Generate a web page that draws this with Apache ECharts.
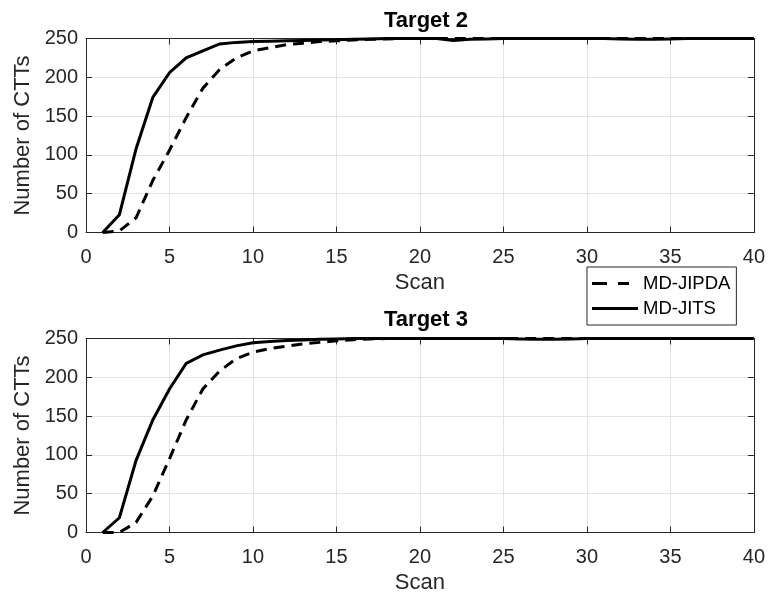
<!DOCTYPE html>
<html>
<head>
<meta charset="utf-8">
<script src="https://cdn.jsdelivr.net/npm/echarts@6/dist/echarts.min.js"></script>
<style>
html,body{margin:0;padding:0;background:#fff;}
#chart{width:768px;height:602px;}
</style>
</head>
<body>
<div id="chart"></div>
<script>
const scans = [1,2,3,4,5,6,7,8,9,10,11,12,13,14,15,16,17,18,19,20,21,22,23,24,25,26,27,28,29,30,31,32,33,34,35,36,37,38,39,40];
const t2JIPDA = [0,2,19,67,106,148,186,210,225,234,238,242,244,246,247,248,249,249.5,250,250,250,250,250,250,250,250,250,250,250,250,250,250,250,250,250,250,250,250,250,250];
const t2JITS  = [0,23,108,174,206,225,234,243,245,246,246.5,247,247.5,248,248.5,249,249.5,250,250,250,250,247.5,249,249.5,250,250,250,250,250,250,250,249.5,249,249,249.5,250,250,250,250,250];
const t3JIPDA = [0,0,13,47,95,145,185,208,224,232.5,237,240,243,245,247,248.5,249.5,250,250,250,250,250,250,250,250,250,250,250,250,250,250,250,250,250,250,250,250,250,250,250];
const t3JITS  = [0,19,93,145,185,218,229,235,240.5,244.5,246,247.5,248,249,249.5,250,250,250,250,250,250,250,250,250,250,249.5,249,249,249.5,250,250,250,250,250,250,250,250,250,250,250];
const seriesNames = ['MD-JIPDA','MD-JITS'];
const titles = ['Target 2','Target 3'];
const xTicks = {min:0, max:40, interval:5};
const yTicks = {min:0, max:250, interval:50};
const xName = 'Scan';
const yName = 'Number of CTTs';

const FONT = 'Liberation Sans, Arial, Helvetica, sans-serif';
const AX = '#262626';
const pair = (ys) => scans.map((x,i)=>[x, ys[i]]);

const grids = [
  {left:86, top:38.5, width:670, height:194},
  {left:86, top:338.5, width:670, height:194}
];

const xAxes = [], yAxes = [];
[0,1].forEach(g=>{
  xAxes.push({
    type:'value', gridIndex:g, position:'bottom', min:xTicks.min, max:xTicks.max, interval:xTicks.interval,
    name:xName, nameLocation:'middle', nameGap:39,
    nameTextStyle:{fontFamily:FONT, fontSize:22, color:AX},
    axisLine:{show:true, onZero:false, lineStyle:{color:AX, width:1}},
    axisTick:{show:true, inside:true, length:6, lineStyle:{color:AX}},
    axisLabel:{fontFamily:FONT, fontSize:20, color:AX, margin:15},
    splitLine:{show:true, lineStyle:{color:'#e3e3e3', width:1}}
  });
  xAxes.push({
    type:'value', gridIndex:g, position:'top', min:xTicks.min, max:xTicks.max, interval:xTicks.interval,
    axisLine:{show:true, onZero:false, lineStyle:{color:AX, width:1}},
    axisTick:{show:true, inside:true, length:6, lineStyle:{color:AX}},
    axisLabel:{show:false}, splitLine:{show:false}
  });
  yAxes.push({
    type:'value', gridIndex:g, position:'left', min:yTicks.min, max:yTicks.max, interval:yTicks.interval,
    name:yName, nameLocation:'middle', nameGap:51, nameRotate:90,
    nameTextStyle:{fontFamily:FONT, fontSize:22, color:AX},
    axisLine:{show:true, onZero:false, lineStyle:{color:AX, width:1}},
    axisTick:{show:true, inside:true, length:6, lineStyle:{color:AX}},
    axisLabel:{fontFamily:FONT, fontSize:20, color:AX, margin:8},
    splitLine:{show:true, lineStyle:{color:'#e3e3e3', width:1}}
  });
  yAxes.push({
    type:'value', gridIndex:g, position:'right', min:yTicks.min, max:yTicks.max, interval:yTicks.interval,
    axisLine:{show:true, onZero:false, lineStyle:{color:AX, width:1}},
    axisTick:{show:true, inside:true, length:6, lineStyle:{color:AX}},
    axisLabel:{show:false}, splitLine:{show:false}
  });
});

function mkSeries(name, data, g, dashed){
  return {
    name:name, type:'line', xAxisIndex:g*2, yAxisIndex:g*2, data:pair(data),
    symbol:'none', clip:false, animation:false,
    lineStyle:{color:'#000', width:3, type: dashed ? [11,7] : 'solid', cap:'butt', join:'miter'},
    itemStyle:{color:'#000'}
  };
}

const dashIcon = 'path://M0 0H15V3H0Z M26 0H37V3H26Z M46 0L46 3';
const solidIcon = 'path://M0 0H46V3H0Z';

const option = {
  backgroundColor:'#fff',
  animation:false,
  title:[
    {text:titles[0], left:421, top:5, textAlign:'center', textStyle:{fontFamily:FONT, fontSize:22, fontWeight:'bold', color:'#000'}},
    {text:titles[1], left:421, top:304, textAlign:'center', textStyle:{fontFamily:FONT, fontSize:22, fontWeight:'bold', color:'#000'}}
  ],
  legend:{
    data:[{name:seriesNames[0], icon:dashIcon}, {name:seriesNames[1], icon:solidIcon}],
    orient:'vertical', left:587, top:267,
    backgroundColor:'#fff', borderColor:AX, borderWidth:1, borderRadius:0,
    padding:[7,6,7,5], itemGap:6, itemWidth:46, itemHeight:3,
    itemStyle:{color:'#000', borderWidth:0},
    textStyle:{fontFamily:FONT, fontSize:18.5, color:'#000', lineHeight:19},
    z:10
  },
  grid:grids,
  xAxis:xAxes,
  yAxis:yAxes,
  series:[
    mkSeries(seriesNames[0], t2JIPDA, 0, true),
    mkSeries(seriesNames[1], t2JITS, 0, false),
    mkSeries(seriesNames[0], t3JIPDA, 1, true),
    mkSeries(seriesNames[1], t3JITS, 1, false)
  ]
};
const chart = echarts.init(document.getElementById('chart'), null, {renderer:'canvas'});
chart.setOption(option);
</script>
</body>
</html>
